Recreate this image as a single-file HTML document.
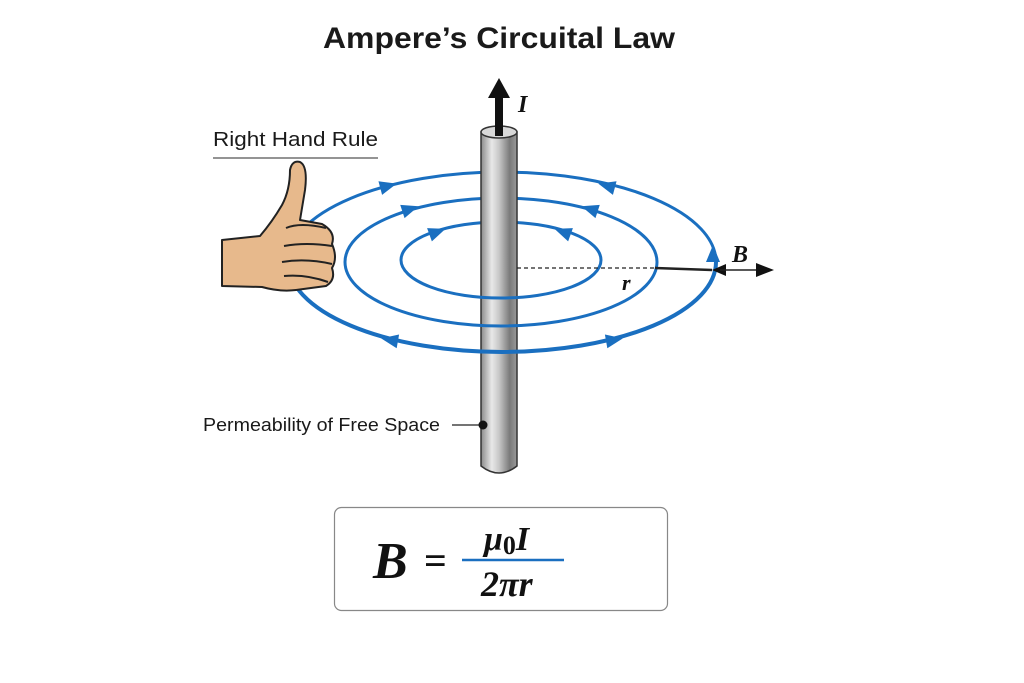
<!DOCTYPE html>
<html><head><meta charset="utf-8"><style>
html,body{margin:0;padding:0;background:#fff;}
svg{display:block;}
</style></head><body>
<svg width="1024" height="683" viewBox="0 0 1024 683" xmlns="http://www.w3.org/2000/svg">
<defs>
<linearGradient id="rod" x1="0" x2="1" y1="0" y2="0">
<stop offset="0" stop-color="#8a8a8a"/><stop offset="0.3" stop-color="#e8e8e8"/><stop offset="0.5" stop-color="#c8c8c8"/><stop offset="0.8" stop-color="#7a7a7a"/><stop offset="1" stop-color="#9a9a9a"/>
</linearGradient>
</defs>
<text x="499" y="48" text-anchor="middle" font-family="Liberation Sans, sans-serif" font-weight="bold" font-size="30" textLength="352" lengthAdjust="spacingAndGlyphs" fill="#1a1a1a">Ampere’s Circuital Law</text>
<text x="213" y="146" font-family="Liberation Sans, sans-serif" font-size="20" textLength="165" lengthAdjust="spacingAndGlyphs" fill="#1a1a1a">Right Hand Rule</text>
<line x1="213" y1="158" x2="378" y2="158" stroke="#555" stroke-width="1.2"/>

<g fill="none" stroke="#1a6fc0">
<path d="M288 262 A214 90 0 0 1 716 262" stroke-width="3"/>
<path d="M345 262 A156 64 0 0 1 657 262" stroke-width="3"/>
<path d="M401 260 A100 38 0 0 1 601 260" stroke-width="3"/>
</g>
<path d="M481 132 L481 466 Q499 480 517 466 L517 132 Z" fill="url(#rod)" stroke="#333" stroke-width="1.5"/>
<ellipse cx="499" cy="132" rx="18" ry="6" fill="#d8d8d8" stroke="#333" stroke-width="1.5"/>
<g fill="none" stroke="#1a6fc0">
<path d="M288 262 A214 90 0 0 0 716 262" stroke-width="4"/>
<path d="M345 262 A156 64 0 0 0 657 262" stroke-width="3"/>
<path d="M401 260 A100 38 0 0 0 601 260" stroke-width="3"/>
</g>
<g fill="#1a6fc0">
<polygon points="9,0 -8,-7 -8,7" transform="translate(388,186) rotate(-15)"/>
<polygon points="9,0 -8,-7 -8,7" transform="translate(607,186) rotate(195)"/>
<polygon points="9,0 -8,-7 -8,7" transform="translate(410,209) rotate(-18)"/>
<polygon points="9,0 -8,-7 -8,7" transform="translate(590,209) rotate(198)"/>
<polygon points="9,0 -8,-7 -8,7" transform="translate(437,232) rotate(-20)"/>
<polygon points="9,0 -8,-7 -8,7" transform="translate(563,232) rotate(200)"/>
<polygon points="9,0 -8,-7 -8,7" transform="translate(390,340) rotate(190)"/>
<polygon points="9,0 -8,-7 -8,7" transform="translate(614,340) rotate(-10)"/>
<polygon points="9,0 -8,-7 -8,7" transform="translate(713,254) rotate(-90)"/>
</g>
<rect x="495" y="96" width="8" height="40" fill="#111"/>
<polygon points="499,78 488,98 510,98" fill="#111"/>
<text x="518" y="112" font-family="Liberation Serif, serif" font-weight="bold" font-style="italic" font-size="24" fill="#111">I</text>
<line x1="517" y1="268" x2="655" y2="268" stroke="#222" stroke-width="1.2" stroke-dasharray="4,3"/>
<line x1="655" y1="268" x2="712" y2="270" stroke="#222" stroke-width="2.5"/>
<polygon points="712,270 726,264 726,276" fill="#111"/>
<line x1="720" y1="270" x2="760" y2="270" stroke="#222" stroke-width="1.5"/>
<polygon points="774,270 756,263 756,277" fill="#111"/>
<text x="732" y="262" font-family="Liberation Serif, serif" font-weight="bold" font-style="italic" font-size="24" fill="#111">B</text>
<text x="622" y="290" font-family="Liberation Serif, serif" font-weight="bold" font-style="italic" font-size="22" fill="#111">r</text>
<g stroke="#222" stroke-width="2" fill="#e7b98c" stroke-linejoin="round">
<path d="M222 240 L260 236 Q272 222 282 205 Q290 190 290 170 Q292 160 300 162 Q308 166 305 190 Q302 208 300 220 L322 224 Q336 232 332 244 Q338 258 332 268 Q336 280 326 286 L296 290 Q280 292 262 287 L222 286 Z"/>
<path d="M286 228 Q300 222 326 228" fill="none"/>
<path d="M284 246 Q306 242 332 246" fill="none"/>
<path d="M282 262 Q306 258 332 264" fill="none"/>
<path d="M284 276 Q306 274 328 282" fill="none"/>
</g>
<text x="203" y="431" font-family="Liberation Sans, sans-serif" font-size="18" textLength="237" lengthAdjust="spacingAndGlyphs" fill="#1a1a1a">Permeability of Free Space</text>
<line x1="452" y1="425" x2="482" y2="425" stroke="#222" stroke-width="1.2"/>
<circle cx="483" cy="425" r="4.5" fill="#111"/>
<rect x="334.5" y="507.5" width="333" height="103" rx="7" fill="#fff" stroke="#888" stroke-width="1.2"/>
<text x="373" y="578" font-family="Liberation Serif, serif" font-weight="bold" font-style="italic" font-size="52" fill="#111">B</text>
<text x="424" y="574" font-family="Liberation Serif, serif" font-weight="bold" font-size="40" fill="#111">=</text>
<line x1="462" y1="560" x2="564" y2="560" stroke="#1a6fc0" stroke-width="2.5"/>
<text x="484" y="550" font-family="Liberation Serif, serif" font-weight="bold" font-style="italic" font-size="34" fill="#111">μ<tspan font-style="normal" font-size="26" dy="4">0</tspan><tspan dy="-4">I</tspan></text>
<text x="481" y="596" font-family="Liberation Serif, serif" font-weight="bold" font-style="italic" font-size="36" fill="#111">2πr</text>
</svg>
</body></html>
